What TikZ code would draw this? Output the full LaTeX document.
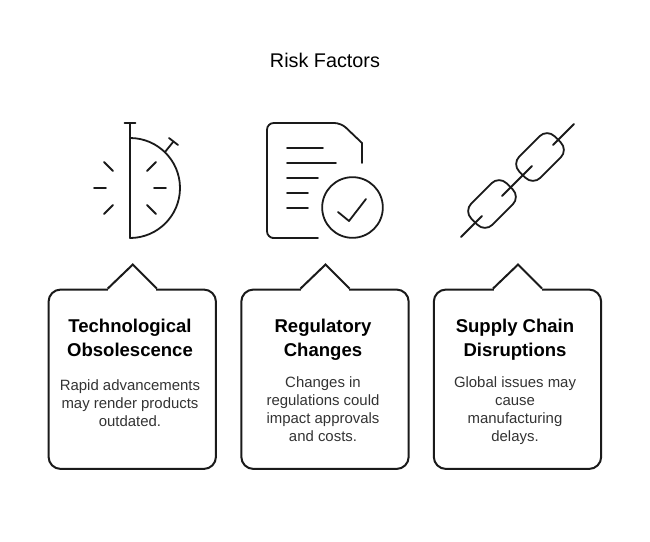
\documentclass[tikz,border=0pt]{standalone}
\usepackage{fontspec}
\setmainfont{Liberation Sans}
\usetikzlibrary{calc}
\usetikzlibrary{positioning}
\definecolor{inkline}{HTML}{1A1A1A}
\definecolor{bodytext}{HTML}{333333}
\tikzset{
  iconline/.style={draw=inkline,line width=1.35pt,line cap=round,line join=round},
  cardbox/.style={draw=inkline,line width=1.5pt,rounded corners=9pt,minimum width=125.5pt,minimum height=134.5pt,inner sep=0pt},
  cardtab/.style={draw=inkline,line width=1.5pt,line join=miter},
  cardhead/.style={align=center,font=\bfseries\fontsize{13.9}{18}\selectfont,text=black,inner sep=0pt},
  cardbody/.style={align=center,font=\fontsize{11.2}{13.6}\selectfont,text=bodytext,inner sep=0pt},
  chainlink/.style={draw=inkline,line width=1.35pt,rounded corners=8pt,rotate=45,minimum width=37.5pt,minimum height=22.5pt,inner sep=0pt}
}
\begin{document}
\begin{tikzpicture}[x=0.75pt,y=-0.75pt]
\useasboundingbox (0,0) rectangle (650,542);

\node[font=\fontsize{14.85}{18}\selectfont,text=black,inner sep=0pt] (title) at (325,60) {Risk Factors};

% stopwatch
\draw[iconline] (130,123) -- (130,238) arc (90:-90:50) ;
\draw[iconline] (124.5,123) -- (135.5,123);
\draw[iconline] (165,152) -- (173.5,141.5);
\draw[iconline] (169,138) -- (178,145);
\draw[iconline] (104,162) -- (113,171);
\draw[iconline] (94,188) -- (106,188);
\draw[iconline] (104,214) -- (113,205);
\draw[iconline] (156,162) -- (147,171);
\draw[iconline] (154,188) -- (166,188);
\draw[iconline] (147,205) -- (156,214);

% document
\draw[iconline] (318,238) -- (272,238) [rounded corners=5pt] -- (267,238) -- (267,123) -- (341,123) [sharp corners] -- (362,143) -- (362,163);
\draw[iconline] (287,148) -- (323,148);
\draw[iconline] (287,163) -- (336,163);
\draw[iconline] (287,178) -- (318,178);
\draw[iconline] (287,193) -- (308,193);
\draw[iconline] (287,208) -- (308,208);
\node[iconline,circle,minimum size=45.5pt,inner sep=0pt] (seal) at (352.5,207.5) {};
\draw[iconline] (338,212) -- (349,221) -- (366,199);

% chain
\node[chainlink] (link a) at (492,204) {};
\node[chainlink] (link b) at (540,157) {};
\draw[iconline] (461,237) -- (482,216);
\draw[iconline] (502,196) -- (532,166);
\draw[iconline] (553,145) -- (574,124);

% cards
\foreach \name/\cx in {one/132.25,two/325,three/517.5} {
  \node[cardbox] (card \name) at (\cx,379.25) {};
  \fill[white] ($(card \name.north)+(-24,-3)$) rectangle ($(card \name.north)+(24,3)$);
  \draw[cardtab] ($(card \name.north)+(-24.5,0)$) -- ($(card \name.north)+(0.5,-24)$) -- ($(card \name.north)+(24.5,0)$);
}

\node[cardhead] (head one) at (130,338) {Technological\\Obsolescence};
\node[cardhead] (head two) at (323,340) {Regulatory\\Changes};
\node[cardhead] (head three) at (515,340) {Supply Chain\\Disruptions};

\node[cardbody,below=16.75pt of head one] (body one) {Rapid advancements\\may render products\\outdated.};
\node[cardbody,below=11.4pt of head two] (body two) {Changes in\\regulations could\\impact approvals\\and costs.};
\node[cardbody,below=11.4pt of head three] (body three) {Global issues may\\cause\\manufacturing\\delays.};
\end{tikzpicture}
\end{document}
